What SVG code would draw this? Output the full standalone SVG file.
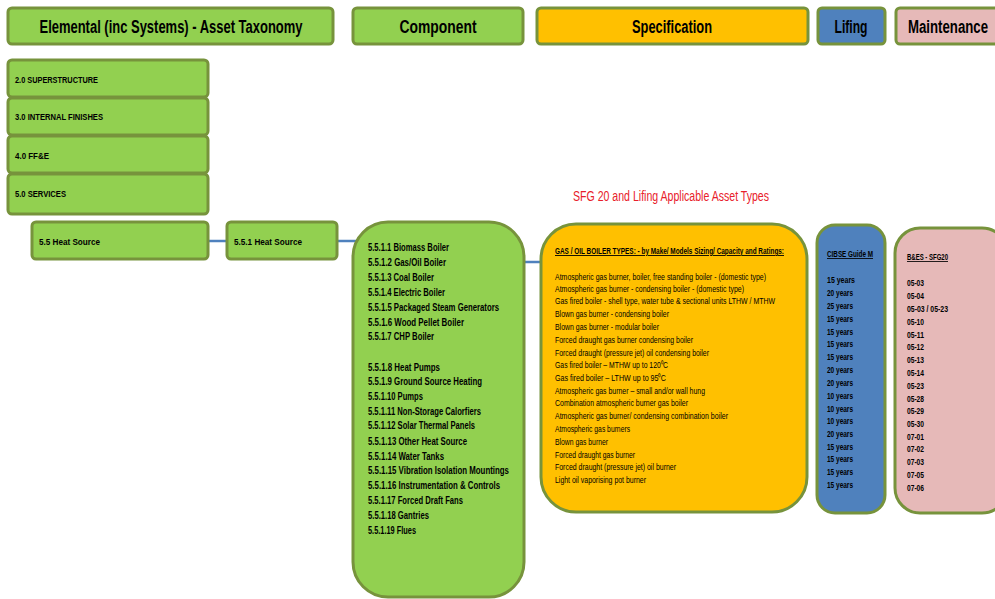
<svg xmlns="http://www.w3.org/2000/svg" width="995" height="599" viewBox="0 0 995 599">
<style>
.box{stroke:#77933C;stroke-width:3}
.g{fill:#92D050}
.y{fill:#FFC000}
.b{fill:#4F81BD}
.p{fill:#E6B9B8}
.h{font-family:"Liberation Sans",Arial,sans-serif;font-weight:bold;font-size:18px;fill:#000;text-anchor:middle}
.s{font-family:"Liberation Sans",Arial,sans-serif;font-weight:bold;font-size:9px;fill:#000}
.v{font-family:"Liberation Sans",Arial,sans-serif;font-weight:bold;font-size:8.5px;fill:#000}
.l{font-family:"Liberation Sans",Arial,sans-serif;font-weight:bold;font-size:9.5px;fill:#000}
.c{font-family:"Liberation Sans",Arial,sans-serif;font-weight:bold;font-size:10px;fill:#000}
.t{font-family:"Liberation Sans",Arial,sans-serif;font-size:9px;fill:#000}
.r{font-family:"Liberation Sans",Arial,sans-serif;font-size:14px;fill:#E8202A}
.u{text-decoration:underline}
.conn{stroke:#4F81BD;stroke-width:2.5;fill:none}
</style>
<g id="connectors">
<path class="conn" d="M208,241 H228"/>
<path class="conn" d="M337,241 H357"/>
<path class="conn" d="M452,262 H545"/>
</g>
<g id="hdr-elemental"><rect class="box g" x="8" y="8" width="325" height="36" rx="4"/><text class="h" x="171" y="33" textLength="263" lengthAdjust="spacingAndGlyphs">Elemental (inc Systems) - Asset Taxonomy</text></g>
<g id="hdr-component"><rect class="box g" x="353" y="8" width="170" height="36" rx="4"/><text class="h" x="438" y="33" textLength="77" lengthAdjust="spacingAndGlyphs">Component</text></g>
<g id="hdr-spec"><rect class="box y" x="537" y="8" width="271" height="36" rx="4"/><text class="h" x="672" y="33" textLength="80" lengthAdjust="spacingAndGlyphs">Specification</text></g>
<g id="hdr-lifing"><rect class="box b" x="818" y="8" width="67" height="36" rx="4"/><text class="h" x="851" y="33" textLength="33" lengthAdjust="spacingAndGlyphs">Lifing</text></g>
<g id="hdr-maint"><rect class="box p" x="896" y="8" width="110" height="36" rx="4"/><text class="h" x="948" y="33" textLength="80" lengthAdjust="spacingAndGlyphs">Maintenance</text></g>
<g id="n-2-0"><rect class="box g" x="8" y="60" width="200" height="37" rx="4"/><text class="l" x="15" y="82.5" textLength="83" lengthAdjust="spacingAndGlyphs">2.0  SUPERSTRUCTURE</text></g>
<g id="n-3-0"><rect class="box g" x="8" y="98" width="200" height="37" rx="4"/><text class="l" x="15" y="119.5" textLength="88" lengthAdjust="spacingAndGlyphs">3.0  INTERNAL FINISHES</text></g>
<g id="n-4-0"><rect class="box g" x="8" y="136" width="200" height="37" rx="4"/><text class="l" x="15" y="158.5" textLength="34" lengthAdjust="spacingAndGlyphs">4.0  FF&amp;E</text></g>
<g id="n-5-0"><rect class="box g" x="8" y="174" width="200" height="40" rx="4"/><text class="l" x="15" y="196.5" textLength="51" lengthAdjust="spacingAndGlyphs">5.0  SERVICES</text></g>
<g id="n-5-5"><rect class="box g" x="32" y="222" width="176" height="37" rx="4"/><text class="l" x="39" y="244.5" textLength="61" lengthAdjust="spacingAndGlyphs">5.5  Heat Source</text></g>
<g id="n-5-5-1"><rect class="box g" x="227" y="222" width="110" height="37" rx="4"/><text class="l" x="234" y="244.5" textLength="68" lengthAdjust="spacingAndGlyphs">5.5.1  Heat Source</text></g>
<g id="n-components">
<rect class="box g" x="353" y="222" width="171" height="375" rx="35"/>
<text class="c" x="368" y="250.5" textLength="81" lengthAdjust="spacingAndGlyphs">5.5.1.1 Biomass Boiler</text>
<text class="c" x="368" y="265.5" textLength="78" lengthAdjust="spacingAndGlyphs">5.5.1.2 Gas/Oil Boiler</text>
<text class="c" x="368" y="280.5" textLength="66" lengthAdjust="spacingAndGlyphs">5.5.1.3 Coal Boiler</text>
<text class="c" x="368" y="295.5" textLength="77" lengthAdjust="spacingAndGlyphs">5.5.1.4 Electric Boiler</text>
<text class="c" x="368" y="310.5" textLength="131" lengthAdjust="spacingAndGlyphs">5.5.1.5 Packaged Steam Generators</text>
<text class="c" x="368" y="325.5" textLength="96" lengthAdjust="spacingAndGlyphs">5.5.1.6 Wood Pellet Boiler</text>
<text class="c" x="368" y="339.5" textLength="66" lengthAdjust="spacingAndGlyphs">5.5.1.7 CHP Boiler</text>
<text class="c" x="368" y="370.5" textLength="72" lengthAdjust="spacingAndGlyphs">5.5.1.8 Heat Pumps</text>
<text class="c" x="368" y="384.5" textLength="114" lengthAdjust="spacingAndGlyphs">5.5.1.9 Ground Source Heating</text>
<text class="c" x="368" y="399.5" textLength="55" lengthAdjust="spacingAndGlyphs">5.5.1.10 Pumps</text>
<text class="c" x="368" y="414.5" textLength="113" lengthAdjust="spacingAndGlyphs">5.5.1.11 Non-Storage Calorfiers</text>
<text class="c" x="368" y="428.5" textLength="107" lengthAdjust="spacingAndGlyphs">5.5.1.12 Solar Thermal Panels</text>
<text class="c" x="368" y="444.5" textLength="99" lengthAdjust="spacingAndGlyphs">5.5.1.13 Other Heat Source</text>
<text class="c" x="368" y="459.5" textLength="76" lengthAdjust="spacingAndGlyphs">5.5.1.14 Water Tanks</text>
<text class="c" x="368" y="473.5" textLength="141" lengthAdjust="spacingAndGlyphs">5.5.1.15 Vibration Isolation Mountings</text>
<text class="c" x="368" y="488.5" textLength="132" lengthAdjust="spacingAndGlyphs">5.5.1.16 Instrumentation &amp; Controls</text>
<text class="c" x="368" y="503.5" textLength="95" lengthAdjust="spacingAndGlyphs">5.5.1.17 Forced Draft Fans</text>
<text class="c" x="368" y="518.5" textLength="61" lengthAdjust="spacingAndGlyphs">5.5.1.18 Gantries</text>
<text class="c" x="368" y="533.5" textLength="48" lengthAdjust="spacingAndGlyphs">5.5.1.19 Flues</text>
</g>
<g id="label-sfg"><text class="r" x="573" y="200.5" textLength="196" lengthAdjust="spacingAndGlyphs">SFG 20 and Lifing Applicable Asset Types</text></g>
<g id="n-spec">
<rect class="box y" x="541" y="224" width="266" height="288" rx="35"/>
<text class="s u" x="555" y="254" textLength="229" lengthAdjust="spacingAndGlyphs">GAS / OIL BOILER TYPES: - by Make/ Models Sizing/ Capacity and Ratings:</text>
<text class="t" x="555" y="280" textLength="211" lengthAdjust="spacingAndGlyphs">Atmospheric gas burner, boiler, free standing boiler - (domestic type)</text>
<text class="t" x="555" y="291.5" textLength="189" lengthAdjust="spacingAndGlyphs">Atmospheric gas burner - condensing boiler  - (domestic type)</text>
<text class="t" x="555" y="304" textLength="220" lengthAdjust="spacingAndGlyphs">Gas fired boiler - shell type, water tube &amp; sectional units LTHW / MTHW</text>
<text class="t" x="555" y="317" textLength="114" lengthAdjust="spacingAndGlyphs">Blown gas burner - condensing boiler</text>
<text class="t" x="555" y="330" textLength="104" lengthAdjust="spacingAndGlyphs">Blown gas burner - modular boiler</text>
<text class="t" x="555" y="342.5" textLength="138" lengthAdjust="spacingAndGlyphs">Forced draught gas burner condensing boiler</text>
<text class="t" x="555" y="356" textLength="154" lengthAdjust="spacingAndGlyphs">Forced draught (pressure jet) oil condensing boiler</text>
<text class="t" x="555" y="368" textLength="113" lengthAdjust="spacingAndGlyphs">Gas fired boiler – MTHW up to 120⁰C</text>
<text class="t" x="555" y="380.5" textLength="111" lengthAdjust="spacingAndGlyphs">Gas fired boiler – LTHW  up to  95⁰C</text>
<text class="t" x="555" y="394" textLength="150" lengthAdjust="spacingAndGlyphs">Atmospheric gas burner – small and/or wall hung</text>
<text class="t" x="555" y="406" textLength="133" lengthAdjust="spacingAndGlyphs">Combination atmospheric burner gas boiler</text>
<text class="t" x="555" y="419" textLength="173" lengthAdjust="spacingAndGlyphs">Atmospheric gas burner/ condensing combination boiler</text>
<text class="t" x="555" y="432" textLength="75" lengthAdjust="spacingAndGlyphs">Atmospheric gas burners</text>
<text class="t" x="555" y="445" textLength="53" lengthAdjust="spacingAndGlyphs">Blown gas burner</text>
<text class="t" x="555" y="458" textLength="80" lengthAdjust="spacingAndGlyphs">Forced draught gas burner</text>
<text class="t" x="555" y="470" textLength="121" lengthAdjust="spacingAndGlyphs">Forced draught (pressure jet) oil burner</text>
<text class="t" x="555" y="483" textLength="91" lengthAdjust="spacingAndGlyphs">Light oil vaporising pot burner</text>
</g>
<g id="n-lifing">
<rect class="box b" x="817" y="225" width="68" height="288" rx="18"/>
<text class="v u" x="827" y="257" textLength="46" lengthAdjust="spacingAndGlyphs">CIBSE Guide M</text>
<text class="v" x="827" y="283" textLength="28" lengthAdjust="spacingAndGlyphs">15  years</text>
<text class="v" x="827" y="296" textLength="26" lengthAdjust="spacingAndGlyphs">20 years</text>
<text class="v" x="827" y="309" textLength="26" lengthAdjust="spacingAndGlyphs">25 years</text>
<text class="v" x="827" y="321.5" textLength="26" lengthAdjust="spacingAndGlyphs">15 years</text>
<text class="v" x="827" y="334.5" textLength="26" lengthAdjust="spacingAndGlyphs">15 years</text>
<text class="v" x="827" y="346.5" textLength="26" lengthAdjust="spacingAndGlyphs">15 years</text>
<text class="v" x="827" y="359.5" textLength="26" lengthAdjust="spacingAndGlyphs">15 years</text>
<text class="v" x="827" y="372.5" textLength="26" lengthAdjust="spacingAndGlyphs">20 years</text>
<text class="v" x="827" y="385.5" textLength="26" lengthAdjust="spacingAndGlyphs">20 years</text>
<text class="v" x="827" y="398.5" textLength="26" lengthAdjust="spacingAndGlyphs">10 years</text>
<text class="v" x="827" y="411.5" textLength="26" lengthAdjust="spacingAndGlyphs">10 years</text>
<text class="v" x="827" y="423.5" textLength="26" lengthAdjust="spacingAndGlyphs">10 years</text>
<text class="v" x="827" y="436.5" textLength="26" lengthAdjust="spacingAndGlyphs">20 years</text>
<text class="v" x="827" y="449.5" textLength="26" lengthAdjust="spacingAndGlyphs">15 years</text>
<text class="v" x="827" y="461.5" textLength="26" lengthAdjust="spacingAndGlyphs">15 years</text>
<text class="v" x="827" y="474.5" textLength="26" lengthAdjust="spacingAndGlyphs">15 years</text>
<text class="v" x="827" y="487.5" textLength="26" lengthAdjust="spacingAndGlyphs">15 years</text>
</g>
<g id="n-maint">
<rect class="box p" x="895" y="228" width="112" height="285" rx="25"/>
<text class="v u" x="907" y="260" textLength="41" lengthAdjust="spacingAndGlyphs">B&amp;ES - SFG20</text>
<text class="v" x="907" y="286" textLength="17" lengthAdjust="spacingAndGlyphs">05-03</text>
<text class="v" x="907" y="299" textLength="17" lengthAdjust="spacingAndGlyphs">05-04</text>
<text class="v" x="907" y="312" textLength="41" lengthAdjust="spacingAndGlyphs">05-03 / 05-23</text>
<text class="v" x="907" y="324.5" textLength="17" lengthAdjust="spacingAndGlyphs">05-10</text>
<text class="v" x="907" y="337.5" textLength="17" lengthAdjust="spacingAndGlyphs">05-11</text>
<text class="v" x="907" y="350" textLength="17" lengthAdjust="spacingAndGlyphs">05-12</text>
<text class="v" x="907" y="362.5" textLength="17" lengthAdjust="spacingAndGlyphs">05-13</text>
<text class="v" x="907" y="375.5" textLength="17" lengthAdjust="spacingAndGlyphs">05-14</text>
<text class="v" x="907" y="388.5" textLength="17" lengthAdjust="spacingAndGlyphs">05-23</text>
<text class="v" x="907" y="401.5" textLength="17" lengthAdjust="spacingAndGlyphs">05-28</text>
<text class="v" x="907" y="414" textLength="17" lengthAdjust="spacingAndGlyphs">05-29</text>
<text class="v" x="907" y="426.5" textLength="17" lengthAdjust="spacingAndGlyphs">05-30</text>
<text class="v" x="907" y="439.5" textLength="17" lengthAdjust="spacingAndGlyphs">07-01</text>
<text class="v" x="907" y="452" textLength="17" lengthAdjust="spacingAndGlyphs">07-02</text>
<text class="v" x="907" y="464.5" textLength="17" lengthAdjust="spacingAndGlyphs">07-03</text>
<text class="v" x="907" y="477.5" textLength="17" lengthAdjust="spacingAndGlyphs">07-05</text>
<text class="v" x="907" y="490.5" textLength="17" lengthAdjust="spacingAndGlyphs">07-06</text>
</g>
</svg>
